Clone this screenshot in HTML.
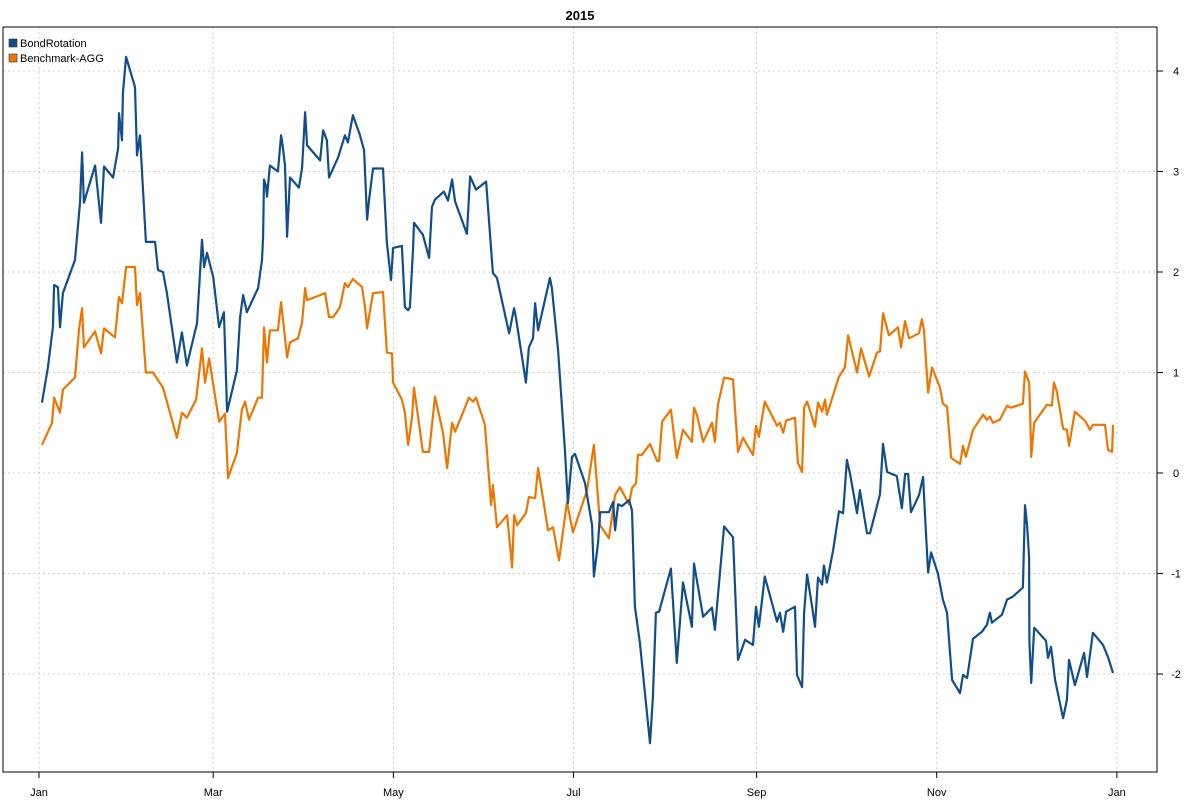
<!DOCTYPE html>
<html><head><meta charset="utf-8"><style>
body{margin:0;background:#fff}
svg{display:block;font-family:"Liberation Sans",sans-serif}
</style></head><body>
<svg id="chart" width="1200" height="800" viewBox="0 0 1200 800">
<rect x="0" y="0" width="1200" height="800" fill="#fff"/>
<text x="580" y="20" text-anchor="middle" font-size="13" font-weight="bold">2015</text>
<g id="grid"></g>
<g id="axes"></g>
<g id="series"></g>
<rect x="3" y="27" width="1154" height="745" fill="none" stroke="#000" stroke-width="1"/>
<g>
<rect x="9" y="39" width="8" height="8" fill="#104e8b" stroke="#333" stroke-width="0.6"/>
<text x="20" y="47" font-size="11">BondRotation</text>
<rect x="9" y="54" width="8" height="8" fill="#ee7600" stroke="#333" stroke-width="0.6"/>
<text x="20" y="62" font-size="11">Benchmark-AGG</text>
</g>
</svg>
<script>
const monthLabels=["Jan","Mar","May","Jul","Sep","Nov","Jan"];
const monthDays=[0,59,120,181,243,304,365];
const yTicks=[-2,-1,0,1,2,3,4];
const bondDays=[1.0,3.0,4.7,5.1,6.4,7.1,8.1,12.2,13.9,14.6,15.2,19.0,21.0,22.0,25.1,26.8,27.1,28.1,28.4,29.5,32.5,33.2,34.2,36.2,39.3,40.3,42.0,43.3,46.7,48.4,50.1,53.5,55.2,55.9,56.9,59.0,61.0,62.6,63.7,67.0,68.1,69.1,70.4,74.2,75.5,75.9,76.2,76.9,77.2,78.2,80.9,82.0,82.6,83.3,84.0,85.0,88.0,89.1,90.1,90.8,95.2,96.2,97.5,98.2,101.3,103.6,104.6,106.3,108.7,110.1,111.1,111.8,113.1,116.5,117.8,119.2,119.9,122.9,123.9,125.0,125.6,126.7,127.0,130.0,132.1,133.1,134.1,137.1,138.5,139.9,140.9,144.9,146.0,148.0,151.4,153.7,155.1,159.2,160.9,161.5,164.9,165.9,167.3,168.0,169.0,173.0,173.7,175.8,178.1,179.1,180.5,181.5,184.9,187.3,187.9,189.3,190.0,193.0,194.4,195.1,196.1,197.4,199.8,200.8,201.8,203.5,206.9,207.9,208.9,210.0,214.0,216.0,218.1,221.1,221.8,224.9,227.9,228.9,232.0,235.0,236.7,239.1,241.8,242.8,243.8,245.8,249.9,250.9,252.0,253.0,256.0,256.7,258.4,259.1,260.1,262.1,262.8,263.8,265.2,265.8,266.8,268.9,270.9,272.3,273.6,274.6,277.0,278.0,280.4,281.4,284.8,285.8,287.2,290.5,292.2,293.3,294.3,295.3,298.0,299.4,300.0,301.1,302.1,304.4,306.1,307.5,309.2,311.9,312.9,314.3,316.3,319.3,321.0,322.0,322.7,326.1,327.8,329.8,333.2,333.9,334.6,335.3,335.4,336.0,337.0,341.0,341.7,342.7,344.1,346.8,348.1,348.8,350.8,353.9,354.9,356.9,360.3,362.0,363.7];
const bondValues=[0.70,1.05,1.45,1.87,1.85,1.45,1.79,2.12,2.69,3.19,2.69,3.06,2.49,3.05,2.94,3.23,3.58,3.31,3.78,4.14,3.84,3.16,3.36,2.30,2.30,2.02,2.00,1.79,1.10,1.40,1.07,1.49,2.32,2.05,2.19,1.95,1.45,1.60,0.61,1.02,1.55,1.77,1.60,1.84,2.12,2.35,2.92,2.85,2.75,3.06,3.00,3.36,3.24,3.06,2.35,2.94,2.84,3.04,3.59,3.26,3.11,3.41,3.31,2.94,3.14,3.36,3.29,3.56,3.36,3.21,2.52,2.72,3.03,3.03,2.29,1.92,2.24,2.26,1.65,1.62,1.65,2.24,2.49,2.37,2.14,2.65,2.72,2.80,2.71,2.92,2.70,2.38,2.95,2.82,2.90,1.99,1.94,1.39,1.64,1.55,0.90,1.25,1.34,1.69,1.42,1.94,1.84,1.22,0.23,-0.30,0.16,0.19,-0.10,-0.52,-1.03,-0.70,-0.39,-0.39,-0.29,-0.57,-0.31,-0.33,-0.27,-0.37,-1.33,-1.69,-2.69,-2.23,-1.39,-1.38,-0.95,-1.89,-1.09,-1.53,-0.90,-1.43,-1.34,-1.56,-0.53,-0.64,-1.86,-1.66,-1.71,-1.33,-1.53,-1.03,-1.48,-1.39,-1.58,-1.38,-1.33,-2.01,-2.13,-1.39,-1.01,-1.39,-1.53,-1.04,-1.11,-0.92,-1.09,-0.77,-0.38,-0.40,0.13,0.00,-0.40,-0.17,-0.60,-0.60,-0.21,0.29,0.01,-0.03,-0.35,-0.01,-0.01,-0.39,-0.22,-0.04,-0.40,-0.99,-0.79,-1.00,-1.26,-1.39,-2.06,-2.19,-2.01,-2.04,-1.65,-1.58,-1.51,-1.39,-1.49,-1.41,-1.26,-1.23,-1.14,-0.32,-0.52,-0.84,-1.68,-2.09,-1.54,-1.67,-1.84,-1.73,-2.06,-2.44,-2.26,-1.86,-2.11,-1.79,-2.03,-1.59,-1.71,-1.83,-1.99];
const aggDays=[1.0,4.4,5.1,7.1,8.1,12.2,13.5,14.6,15.2,19.0,21.0,22.0,25.7,27.1,28.1,29.5,32.5,33.2,34.2,36.2,38.6,42.0,46.7,48.4,50.1,53.2,55.2,56.2,57.6,61.0,63.0,64.0,67.0,68.7,69.8,71.1,74.2,75.5,76.2,77.2,78.2,80.9,82.0,84.0,85.0,87.7,89.1,90.1,90.8,95.2,96.9,98.2,99.6,101.9,103.6,104.6,106.3,109.4,110.4,111.1,113.1,116.5,117.8,119.5,119.9,122.9,123.9,125.0,126.3,127.0,130.0,132.1,134.1,136.8,138.2,139.9,140.9,145.6,147.0,148.0,151.0,153.1,153.7,155.1,158.5,160.2,160.9,161.9,164.9,165.9,168.0,169.0,172.4,174.1,176.1,178.8,180.8,185.6,187.9,190.0,193.0,195.1,196.7,199.8,200.8,202.2,202.8,204.2,206.9,209.3,210.0,211.0,214.0,216.0,218.1,221.1,221.8,222.8,224.9,227.9,228.9,229.9,232.0,235.0,236.7,238.4,241.8,242.8,243.8,245.8,249.9,250.9,252.0,253.0,256.0,257.0,258.4,259.1,260.1,262.8,263.8,265.2,266.2,266.8,270.9,272.9,274.0,277.0,278.4,281.1,283.8,284.8,285.8,287.8,290.9,291.9,293.3,294.6,298.0,299.0,299.7,301.1,302.4,305.1,306.1,307.5,308.9,311.9,312.9,313.9,316.3,319.7,321.0,322.0,323.1,325.4,327.8,329.2,333.2,333.9,335.3,335.6,336.0,337.0,341.3,343.0,343.7,344.7,346.8,348.1,348.8,350.8,354.2,355.9,356.9,361.0,362.0,363.4,363.7];
const aggValues=[0.28,0.50,0.75,0.60,0.83,0.95,1.42,1.64,1.25,1.41,1.19,1.44,1.35,1.75,1.69,2.05,2.05,1.67,1.79,1.00,1.00,0.85,0.35,0.60,0.55,0.73,1.24,0.90,1.14,0.51,0.59,-0.05,0.20,0.63,0.71,0.53,0.75,0.75,1.45,1.10,1.42,1.42,1.70,1.15,1.30,1.34,1.50,1.84,1.72,1.77,1.79,1.55,1.55,1.65,1.89,1.85,1.93,1.85,1.65,1.44,1.79,1.80,1.20,1.19,0.90,0.73,0.60,0.28,0.55,0.85,0.21,0.21,0.76,0.40,0.05,0.50,0.41,0.75,0.71,0.75,0.48,-0.32,-0.12,-0.54,-0.42,-0.94,-0.42,-0.52,-0.40,-0.24,-0.25,0.05,-0.57,-0.54,-0.87,-0.29,-0.59,-0.17,0.28,-0.52,-0.65,-0.22,-0.14,-0.31,-0.15,-0.10,0.18,0.18,0.29,0.12,0.12,0.51,0.63,0.15,0.43,0.31,0.65,0.58,0.31,0.50,0.31,0.68,0.95,0.93,0.21,0.35,0.18,0.47,0.36,0.71,0.47,0.50,0.40,0.52,0.55,0.10,0.01,0.65,0.71,0.46,0.70,0.61,0.73,0.58,0.96,1.05,1.37,1.00,1.24,0.96,1.20,1.21,1.59,1.37,1.45,1.25,1.51,1.34,1.39,1.53,1.42,0.80,1.05,0.85,0.69,0.66,0.15,0.09,0.27,0.16,0.43,0.58,0.53,0.56,0.50,0.53,0.67,0.65,0.69,1.01,0.90,0.65,0.16,0.50,0.68,0.67,0.90,0.81,0.44,0.43,0.27,0.61,0.52,0.43,0.48,0.48,0.23,0.21,0.48];

const NS="http://www.w3.org/2000/svg";
const xScale=d=>39+d*2.953;
const yScale=v=>473-v*100.5;
const grid=document.getElementById('grid'),axes=document.getElementById('axes'),series=document.getElementById('series');
function mk(tag,attrs,parent){const e=document.createElementNS(NS,tag);for(const k in attrs)e.setAttribute(k,attrs[k]);parent.appendChild(e);return e;}
monthDays.forEach((d,i)=>{
  const x=xScale(d);
  const g=mk('line',{x1:x,x2:x,y1:27,y2:772,stroke:'#cccccc','stroke-dasharray':'2,3'},grid);
  
  
  const t=mk('line',{x1:x,x2:x,y1:772,y2:778,stroke:'#000'},axes);
  
  
  const l=mk('text',{x:x,y:796,'text-anchor':'middle','font-size':'11'},axes);
  l.textContent=monthLabels[i];
  
  
});
yTicks.forEach(v=>{
  const y=yScale(v);
  const g=mk('line',{x1:3,x2:1157,y1:y,y2:y,stroke:'#cccccc','stroke-dasharray':'2,3'},grid);
  
  
  const t=mk('line',{x1:1157,x2:1163,y1:y,y2:y,stroke:'#000'},axes);
  
  
  const l=mk('text',{x:1176,y:y+4,'text-anchor':'middle','font-size':'11'},axes);
  l.textContent=String(v);
  
  
});
function drawLine(days,vals,color,name){
  const pts=days.map((d,i)=>xScale(d).toFixed(1)+','+yScale(vals[i]).toFixed(1)).join(' ');
  const p=mk('polyline',{points:pts,fill:'none',stroke:color,'stroke-width':'2.2','stroke-linejoin':'round'},series);
  
  
}
drawLine(aggDays,aggValues,'#ee7600','benchmark-agg-line');
drawLine(bondDays,bondValues,'#104e8b','bondrotation-line');
</script>
</body></html>
